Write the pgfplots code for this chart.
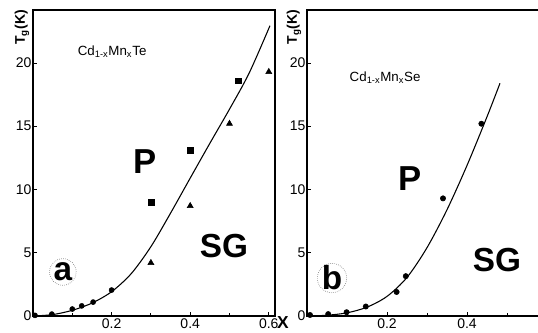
\documentclass[border=0pt]{standalone}
\usepackage{fontspec}
\setmainfont{Liberation Sans}
\usepackage{pgfplots}
\pgfplotsset{compat=1.18}
\pgfplotsset{
  panel/.style={
    scale only axis, anchor=south west, height=229.5pt,
    xmin=0, ymin=0, ymax=24.19,
    minor xtick={0.1,0.3,0.5}, ytick={0,5,10,15,20},
    xtick pos=bottom, ytick pos=left, tick align=inside,
    major tick length=3pt, minor tick length=2pt,
    /pgf/number format/assume math mode=true,
    tick label style={font=\fontsize{10.5}{12}\selectfont},
    yticklabel style={inner sep=1pt},
    xticklabel style={inner sep=2pt},
    axis line style={line width=0.9pt},
    tick style={line width=0.6pt, black},
    clip=false,
  },
  curve/.style={smooth, line width=0.8pt, black, no marks},
}
\begin{document}
\begin{tikzpicture}
\useasboundingbox (0,0) rectangle (403.5pt,249pt);
\clip (0,0) rectangle (403.5pt,249pt);
% ---------------- panel a ----------------
\begin{axis}[panel, at={(24.75pt,12pt)}, width=181.5pt, xmax=0.6158, xtick={0.2,0.4,0.6}]
\addplot[curve] coordinates {
(0,0) (0.05,0.11) (0.1,0.45) (0.15,1.02) (0.2,1.92) (0.25,3.35) (0.3,5.48)
(0.35,8.13) (0.4,10.9) (0.45,13.65) (0.5,16.35) (0.55,19.2) (0.603,22.95)};
\addplot[only marks, mark=*, mark size=1.9pt, black] coordinates {
(0.005,0.05) (0.048,0.15) (0.1,0.55) (0.124,0.8) (0.153,1.1) (0.2,2.05)};
\addplot[only marks, mark=square*, mark size=2.2pt, black] coordinates {
(0.30,9.0) (0.401,13.1) (0.522,18.6)};
\addplot[only marks, mark=triangle*, mark size=2.6pt, black] coordinates {
(0.30,4.2) (0.40,8.7) (0.50,15.2) (0.60,19.3)};
\node[anchor=base west, font=\fontsize{10}{12}\selectfont] at (axis cs:0.102,20.6) {Cd\textsubscript{1-x}Mn\textsubscript{x}Te};
\node[anchor=base, font=\bfseries\fontsize{26}{28}\selectfont] at (axis cs:0.285,11.3) {P};
\node[anchor=base, font=\bfseries\fontsize{25}{28}\selectfont] at (axis cs:0.486,4.66) {SG};
\draw[gray, densely dotted, line width=0.5pt] (axis cs:0.076,3.48) circle[radius=10pt];
\node[font=\bfseries\fontsize{25}{28}\selectfont, inner sep=0pt] at (axis cs:0.076,3.48) {a};
\end{axis}
% ---------------- panel b ----------------
\begin{axis}[panel, at={(230.25pt,12pt)}, width=180pt, xmax=0.6, xtick={0.2,0.4}]
\addplot[curve] coordinates {
(0,0) (0.05,0.06) (0.1,0.25) (0.15,0.7) (0.2,1.55) (0.25,3.05) (0.3,5.4)
(0.35,8.4) (0.4,11.9) (0.45,15.75) (0.4825,18.4)};
\addplot[only marks, mark=*, mark size=2pt, black] coordinates {
(0.0075,0.08) (0.053,0.15) (0.099,0.3) (0.147,0.75) (0.224,1.9) (0.247,3.15)
(0.34,9.3) (0.436,15.2)};
\node[anchor=base west, font=\fontsize{10}{12}\selectfont] at (axis cs:0.095,18.5) {Cd\textsubscript{1-x}Mn\textsubscript{x}Se};
\node[anchor=base, font=\bfseries\fontsize{26}{28}\selectfont] at (axis cs:0.2575,9.96) {P};
\node[anchor=base, font=\bfseries\fontsize{25}{28}\selectfont] at (axis cs:0.475,3.48) {SG};
\draw[gray, densely dotted, line width=0.5pt] (axis cs:0.0625,3.0) circle[radius=11pt];
\node[font=\bfseries\fontsize{25}{28}\selectfont, inner sep=0pt] at (axis cs:0.0625,3.0) {b};
\end{axis}
% ---------------- axis titles ----------------
\node[rotate=90, font=\bfseries\fontsize{10.5}{12}\selectfont] at (16.5pt,228.4pt) {T\textsubscript{g}(K)};
\node[rotate=90, font=\bfseries\fontsize{10.5}{12}\selectfont] at (220.5pt,228.75pt) {T\textsubscript{g}(K)};
\node[font=\bfseries\fontsize{13}{14}\selectfont] at (212.25pt,6.75pt) {X};
\end{tikzpicture}
\end{document}
